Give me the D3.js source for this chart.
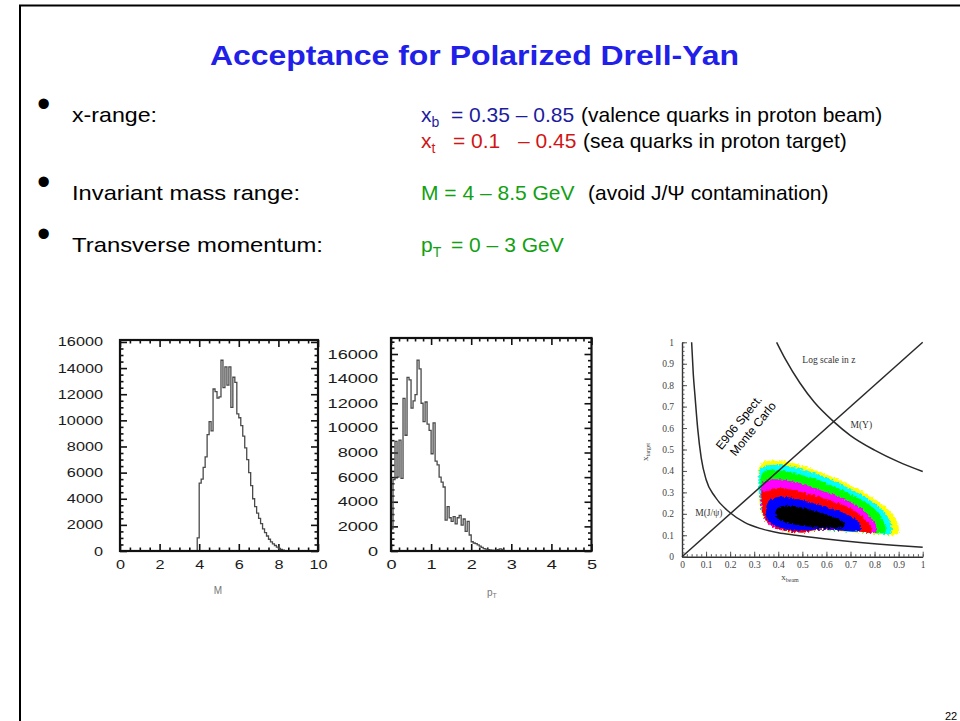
<!DOCTYPE html>
<html>
<head>
<meta charset="utf-8">
<script src="https://cdn.jsdelivr.net/npm/d3@7"></script>
<style>
  html, body { margin: 0; padding: 0; background: #fff; }
  svg { display: block; }
</style>
</head>
<body>
<svg id="slide" width="960" height="721"></svg>
<script>
// ---------- histogram of the dimuon invariant mass (GeV), bins of 0.1 ----------
const massBinEdges = [3.8, 3.9, 4.0, 4.1, 4.2, 4.3, 4.4, 4.5, 4.6, 4.7, 4.8, 4.9,
  5.0, 5.1, 5.2, 5.3, 5.4, 5.5, 5.6, 5.7, 5.8, 5.9, 6.0, 6.1, 6.2, 6.3, 6.4, 6.5,
  6.6, 6.7, 6.8, 6.9, 7.0, 7.1, 7.2, 7.3, 7.4, 7.5, 7.6, 7.7, 7.8, 7.9, 8.0, 8.1,
  8.2, 8.3, 8.4];
const massCounts = [0, 1000, 5200, 5500, 6400, 7200, 8900, 9900, 9200, 12400, 12200, 11700,
  11800, 14600, 12500, 14100, 12700, 14100, 11000, 13300, 12900, 10500, 10200, 9600, 8800, 7900, 7000, 6000,
  5000, 4000, 3400, 2900, 2500, 2100, 1700, 1400, 1150, 900, 700, 550, 420, 300, 200, 120,
  60, 20, 0];
const massBinWidth = 0.1;

// ---------- histogram of the dimuon transverse momentum (GeV), bins of 0.05 ----------
const ptBinEdges = [0.00, 0.05, 0.10, 0.15, 0.20, 0.25, 0.30, 0.35, 0.40, 0.45,
  0.50, 0.55, 0.60, 0.65, 0.70, 0.75, 0.80, 0.85, 0.90, 0.95,
  1.00, 1.05, 1.10, 1.15, 1.20, 1.25, 1.30, 1.35, 1.40, 1.45,
  1.50, 1.55, 1.60, 1.65, 1.70, 1.75, 1.80, 1.85, 1.90, 1.95,
  2.00, 2.05, 2.10, 2.15, 2.20, 2.25, 2.30, 2.35, 2.40, 2.45,
  2.50, 2.55, 2.60, 2.65, 2.70, 2.75, 2.80];
const ptCounts = [1800, 5800, 8900, 6000, 9000, 5900, 12400, 9400, 14100, 13900,
  11600, 12200, 12700, 15500, 14800, 12000, 10500, 12100, 10300, 9800,
  7900, 10400, 7300, 7000, 6000, 5600, 5200, 2500, 3600, 2700,
  2400, 2800, 2200, 2700, 2900, 2100, 2600, 1600, 2400, 1300,
  750, 650, 600, 500, 400, 300, 200, 150, 100, 80,
  60, 50, 60, 100, 180, 120, 0];
const ptBinWidth = 0.05;

// ---------- axis tick values ----------
const countTicks = [0, 2000, 4000, 6000, 8000, 10000, 12000, 14000, 16000];
const massTicks = [0, 2, 4, 6, 8, 10];
const ptTicks = [0, 1, 2, 3, 4, 5];
const fracTicks = [0, 0.1, 0.2, 0.3, 0.4, 0.5, 0.6, 0.7, 0.8, 0.9, 1];

// ---------- x_beam / x_target acceptance (log-z density levels, outer to inner) ----------
const levelColors = ["#ffff00", "#00ffff", "#00ff00", "#ff00ff", "#ff0000", "#0000ff", "#000000"];
const levelContours = [
  [[0.325,0.43],[0.36,0.447],[0.42,0.445],[0.47,0.435],[0.53,0.413],[0.6,0.383],[0.68,0.345],[0.75,0.303],[0.81,0.262],[0.857,0.22],[0.885,0.18],[0.9,0.14],[0.9,0.11],[0.88,0.1],[0.82,0.105],[0.74,0.112],[0.66,0.118],[0.57,0.123],[0.5,0.118],[0.44,0.118],[0.39,0.132],[0.355,0.155],[0.335,0.19],[0.322,0.25],[0.318,0.33],[0.318,0.38]],
  [[0.33,0.415],[0.37,0.428],[0.43,0.425],[0.49,0.41],[0.55,0.39],[0.62,0.36],[0.69,0.322],[0.76,0.28],[0.81,0.24],[0.845,0.2],[0.865,0.16],[0.872,0.125],[0.865,0.105],[0.82,0.108],[0.74,0.114],[0.66,0.12],[0.57,0.125],[0.5,0.12],[0.44,0.12],[0.39,0.134],[0.357,0.157],[0.337,0.19],[0.325,0.25],[0.318,0.33],[0.318,0.37]],
  [[0.335,0.39],[0.37,0.405],[0.435,0.397],[0.5,0.38],[0.56,0.36],[0.62,0.333],[0.685,0.3],[0.75,0.262],[0.8,0.222],[0.83,0.18],[0.845,0.14],[0.845,0.115],[0.82,0.11],[0.74,0.116],[0.66,0.121],[0.57,0.126],[0.5,0.122],[0.44,0.122],[0.392,0.136],[0.36,0.158],[0.34,0.19],[0.328,0.25],[0.325,0.32]],
  [[0.335,0.345],[0.37,0.36],[0.41,0.36],[0.49,0.343],[0.57,0.312],[0.65,0.28],[0.72,0.243],[0.77,0.2],[0.8,0.16],[0.81,0.125],[0.8,0.112],[0.74,0.117],[0.66,0.122],[0.57,0.127],[0.5,0.118],[0.44,0.12],[0.39,0.13],[0.357,0.155],[0.338,0.19],[0.328,0.25],[0.328,0.31]],
  [[0.335,0.3],[0.37,0.315],[0.41,0.32],[0.49,0.303],[0.57,0.28],[0.65,0.25],[0.72,0.212],[0.76,0.175],[0.785,0.14],[0.785,0.115],[0.74,0.118],[0.66,0.123],[0.57,0.127],[0.5,0.112],[0.44,0.12],[0.395,0.133],[0.36,0.158],[0.34,0.19],[0.332,0.25]],
  [[0.36,0.26],[0.4,0.278],[0.45,0.276],[0.52,0.258],[0.59,0.235],[0.66,0.21],[0.71,0.182],[0.74,0.15],[0.742,0.125],[0.71,0.118],[0.65,0.125],[0.57,0.128],[0.5,0.122],[0.44,0.126],[0.4,0.138],[0.37,0.155],[0.35,0.185],[0.35,0.22]],
  [[0.39,0.215],[0.42,0.236],[0.47,0.235],[0.53,0.22],[0.59,0.2],[0.64,0.18],[0.675,0.155],[0.67,0.138],[0.63,0.135],[0.58,0.135],[0.53,0.14],[0.48,0.148],[0.43,0.16],[0.395,0.18]]
];

// constant-mass lines and the x_beam = x_target diagonal
const jpsiLine = [[0.04,1.0],[0.047,0.85],[0.054,0.75],[0.065,0.6],[0.08,0.46],[0.1,0.36],[0.137,0.28],[0.2,0.205],[0.26,0.16],[0.324,0.132],[0.4,0.112],[0.463,0.101],[0.6,0.082],[0.74,0.066],[0.878,0.053],[1.0,0.044]];
const upsilonLine = [[0.393,1.0],[0.43,0.92],[0.49,0.81],[0.55,0.72],[0.63,0.63],[0.7,0.565],[0.8,0.497],[0.9,0.442],[1.0,0.397]];
const diagonalLine = [[0,0],[1,1]];

// ================= drawing =================
const svg = d3.select("#slide");
const SANS = "'Liberation Sans', Arial, Helvetica, sans-serif";
const SERIF = "'Liberation Serif', 'Times New Roman', serif";

svg.append("rect").attr("width", 960).attr("height", 721).attr("fill", "#fff");

// slide border
svg.append("path").attr("d", "M20,721V5.5H960")
  .attr("fill", "none").attr("stroke", "#000").attr("stroke-width", 2);

// title
svg.append("text")
  .attr("x", 474.5).attr("y", 65)
  .attr("text-anchor", "middle")
  .attr("font-family", SANS).attr("font-weight", "bold").attr("font-size", 28)
  .attr("fill", "#2020e8")
  .attr("textLength", 529).attr("lengthAdjust", "spacingAndGlyphs")
  .text("Acceptance for Polarized Drell-Yan");

// bullet list
const bulletRows = [
  { y: 122, label: "x-range:", width: 85 },
  { y: 200, label: "Invariant mass range:", width: 228 },
  { y: 252, label: "Transverse momentum:", width: 251 }
];
bulletRows.forEach(r => {
  svg.append("text").attr("x", 37).attr("y", r.y - 5.5)
    .attr("font-family", SANS).attr("font-size", 38).attr("fill", "#000").text("•");
  svg.append("text").attr("x", 72).attr("y", r.y)
    .attr("font-family", SANS).attr("font-size", 21).attr("fill", "#000")
    .attr("textLength", r.width).attr("lengthAdjust", "spacingAndGlyphs")
    .text(r.label);
});

function plain(x, y, str, color, size) {
  return svg.append("text").attr("x", x).attr("y", y)
    .attr("font-family", SANS).attr("font-size", size || 21).attr("fill", color).text(str);
}
function subscripted(x, y, base, sub, color) {
  const t = svg.append("text").attr("x", x).attr("y", y)
    .attr("font-family", SANS).attr("font-size", 21).attr("fill", color);
  t.append("tspan").text(base);
  t.append("tspan").attr("font-size", 14).attr("dy", 5).text(sub);
  return t;
}
const BLUE = "#1c1c9e", RED = "#d01616", GREEN = "#12a012";
subscripted(421, 122, "x", "b", BLUE);
plain(451, 122, "= 0.35 – 0.85", BLUE);
plain(581, 122, "(valence quarks in proton beam)", "#000");
subscripted(421, 148, "x", "t", RED);
plain(453, 148, "= 0.1", RED);
plain(518, 148, "– 0.45", RED);
plain(583, 148, "(sea quarks in proton target)", "#000");
plain(421, 200, "M = 4 – 8.5 GeV", GREEN);
plain(588, 200, "(avoid J/Ψ contamination)", "#000");
subscripted(421, 252, "p", "T", GREEN);
plain(451, 252, "= 0 – 3 GeV", GREEN);

// page number
svg.append("text").attr("x", 945).attr("y", 720)
  .attr("font-family", SANS).attr("font-size", 11).attr("fill", "#000").text("22");

// ---------- helpers for framed ROOT-style plots ----------
function stretchLabels(sel, factor) {
  sel.selectAll("text").each(function () {
    const w = this.getComputedTextLength();
    d3.select(this).attr("textLength", w * factor).attr("lengthAdjust", "spacingAndGlyphs");
  });
}

function framedHistogram(opt) {
  const g = svg.append("g");
  const x = d3.scaleLinear().domain(opt.xDomain).range(opt.xRange);
  const y = d3.scaleLinear().domain(opt.yDomain).range(opt.yRange);
  const [x0, x1] = opt.xRange, [yb, yt] = opt.yRange;

  const addAxis = (axis, tr, labels) => {
    const a = g.append("g").attr("transform", tr).call(axis);
    a.select(".domain").remove();
    a.selectAll("line").attr("stroke", "#111").attr("stroke-width", 1.6);
    if (labels) {
      a.selectAll("text").attr("font-family", SANS).attr("font-size", 12.5).attr("fill", "#1a1a1a");
      stretchLabels(a, opt.stretch);
    } else {
      a.selectAll("text").remove();
    }
    return a;
  };
  // bottom / top
  addAxis(d3.axisBottom(x).tickValues(opt.xMajor).tickSizeInner(-7).tickSizeOuter(0).tickPadding(9).tickFormat(d3.format("d")), `translate(0,${yb})`, true);
  addAxis(d3.axisBottom(x).tickValues(opt.xMinor).tickSizeInner(-3.5).tickSizeOuter(0), `translate(0,${yb})`, false);
  addAxis(d3.axisTop(x).tickValues(opt.xMajor).tickSizeInner(-7).tickSizeOuter(0), `translate(0,${yt})`, false);
  addAxis(d3.axisTop(x).tickValues(opt.xMinor).tickSizeInner(-3.5).tickSizeOuter(0), `translate(0,${yt})`, false);
  // left / right
  addAxis(d3.axisLeft(y).tickValues(countTicks).tickSizeInner(-7).tickSizeOuter(0).tickPadding(opt.yPad).tickFormat(d3.format("d")), `translate(${x0},0)`, true);
  addAxis(d3.axisLeft(y).tickValues(opt.yMinor).tickSizeInner(-3.5).tickSizeOuter(0), `translate(${x0},0)`, false);
  addAxis(d3.axisRight(y).tickValues(countTicks).tickSizeInner(-7).tickSizeOuter(0), `translate(${x1},0)`, false);
  addAxis(d3.axisRight(y).tickValues(opt.yMinor).tickSizeInner(-3.5).tickSizeOuter(0), `translate(${x1},0)`, false);

  // histogram outline
  const pts = opt.edges.map((e, i) => [e, opt.counts[i]]);
  const last = opt.edges.length - 1;
  pts.push([opt.edges[last] + opt.width, opt.counts[last]]);
  g.append("path")
    .attr("d", d3.line().x(d => x(d[0])).y(d => y(d[1])).curve(d3.curveStepAfter)(pts))
    .attr("fill", "none").attr("stroke", "#4a4a4a").attr("stroke-width", 1.3);

  // frame
  g.append("rect").attr("x", x0).attr("y", yt).attr("width", x1 - x0).attr("height", yb - yt)
    .attr("fill", "none").attr("stroke", "#111").attr("stroke-width", 2.2);
  return { g, x, y };
}

const countMinor = d3.range(0, 17001, 500);

// invariant mass histogram
framedHistogram({
  xDomain: [0, 10], xRange: [120, 318],
  yDomain: [0, 16150], yRange: [551, 340],
  xMajor: massTicks, xMinor: d3.range(0, 10.01, 0.5).filter(v => v % 2 !== 0),
  yMinor: countMinor.filter(v => v <= 16150 && v % 2000 !== 0),
  edges: massBinEdges, counts: massCounts, width: massBinWidth,
  yPad: 17, stretch: 1.3
});
svg.append("text").attr("x", 218).attr("y", 594).attr("text-anchor", "middle")
  .attr("font-family", SANS).attr("font-size", 10).attr("fill", "#777").text("M");

// transverse momentum histogram
framedHistogram({
  xDomain: [0, 5], xRange: [391, 591.5],
  yDomain: [0, 17300], yRange: [551, 338],
  xMajor: ptTicks, xMinor: d3.range(0, 5.01, 0.2).filter(v => Math.abs(v - Math.round(v)) > 1e-6),
  yMinor: countMinor.filter(v => v <= 17300 && v % 2000 !== 0),
  edges: ptBinEdges, counts: ptCounts, width: ptBinWidth,
  yPad: 13, stretch: 1.45
});
{
  const t = svg.append("text").attr("x", 487).attr("y", 596)
    .attr("font-family", SANS).attr("font-size", 10).attr("fill", "#777");
  t.append("tspan").text("p");
  t.append("tspan").attr("font-size", 7).attr("dy", 2).text("T");
}

// ---------- x_target vs x_beam acceptance map ----------
{
  const g = svg.append("g");
  const sx = d3.scaleLinear().domain([0, 1]).range([682, 922.7]);
  const sy = d3.scaleLinear().domain([0, 1]).range([556.7, 342.3]);

  const defs = svg.append("defs");
  const f = defs.append("filter").attr("id", "grainy")
    .attr("x", "-5%").attr("y", "-5%").attr("width", "110%").attr("height", "110%");
  f.append("feTurbulence").attr("type", "fractalNoise").attr("baseFrequency", 0.5)
    .attr("numOctaves", 2).attr("seed", 4).attr("result", "noise");
  f.append("feDisplacementMap").attr("in", "SourceGraphic").attr("in2", "noise")
    .attr("scale", 5).attr("xChannelSelector", "R").attr("yChannelSelector", "G");

  const area = d3.line().x(d => sx(d[0])).y(d => sy(d[1])).curve(d3.curveCatmullRomClosed.alpha(0.5));
  const blob = g.append("g").attr("filter", "url(#grainy)");
  blob.selectAll("path").data(levelContours).join("path")
    .attr("d", d => area(d))
    .attr("fill", (d, i) => levelColors[i]);

  // axes
  const axisStyle = (a, labels) => {
    a.select(".domain").attr("stroke", "#333").attr("stroke-width", 1.4);
    a.selectAll("line").attr("stroke", "#444").attr("stroke-width", 0.9);
    if (labels) a.selectAll("text").attr("font-family", SERIF).attr("font-size", 9.5).attr("fill", "#444");
    else a.selectAll("text").remove();
  };
  const minorFrac = d3.range(0, 1.001, 0.02);
  let a = g.append("g").attr("transform", "translate(0,556.7)")
    .call(d3.axisBottom(sx).tickValues(fracTicks).tickSizeInner(-5).tickSizeOuter(0).tickPadding(5).tickFormat(d => String(d)));
  axisStyle(a, true);
  a = g.append("g").attr("transform", "translate(0,556.7)")
    .call(d3.axisBottom(sx).tickValues(minorFrac).tickSizeInner(-2.5).tickSizeOuter(0));
  axisStyle(a, false); a.select(".domain").remove();
  a = g.append("g").attr("transform", "translate(682,0)")
    .call(d3.axisLeft(sy).tickValues(fracTicks).tickSizeInner(-5).tickSizeOuter(0).tickPadding(8).tickFormat(d => String(d)));
  axisStyle(a, true);
  a = g.append("g").attr("transform", "translate(682,0)")
    .call(d3.axisLeft(sy).tickValues(minorFrac).tickSizeInner(-2.5).tickSizeOuter(0));
  axisStyle(a, false); a.select(".domain").remove();

  // kinematic lines
  const curve = d3.line().x(d => sx(d[0])).y(d => sy(d[1])).curve(d3.curveMonotoneX);
  [diagonalLine, jpsiLine, upsilonLine].forEach(c => {
    g.append("path").attr("d", curve(c)).attr("fill", "none")
      .attr("stroke", "#2a2a2a").attr("stroke-width", 1.5);
  });

  // annotations
  const serifText = (x, y, str, size) => g.append("text").attr("x", x).attr("y", y)
    .attr("font-family", SERIF).attr("font-size", size || 9.5).attr("fill", "#333").text(str);
  serifText(sx(0.5), sy(0.905), "Log scale in z");
  serifText(sx(0.7), sy(0.6), "M(Υ)");
  serifText(sx(0.055), sy(0.19), "M(J/ψ)");

  const mc = g.append("g").attr("transform", "translate(742,425) rotate(-51)");
  mc.append("text").attr("x", 0).attr("y", 0).attr("text-anchor", "middle")
    .attr("font-family", SANS).attr("font-size", 12).attr("fill", "#000").text("E906 Spect.");
  mc.append("text").attr("x", 4).attr("y", 15).attr("text-anchor", "middle")
    .attr("font-family", SANS).attr("font-size", 12).attr("fill", "#000").text("Monte Carlo");

  // axis titles
  const xt = g.append("text").attr("x", 790).attr("y", 580).attr("text-anchor", "middle")
    .attr("font-family", SERIF).attr("font-size", 9).attr("fill", "#444");
  xt.append("tspan").text("x");
  xt.append("tspan").attr("font-size", 6).attr("dy", 2).text("beam");
  const yt = g.append("text").attr("transform", "translate(648,452) rotate(-90)").attr("text-anchor", "middle")
    .attr("font-family", SERIF).attr("font-size", 9).attr("fill", "#444");
  yt.append("tspan").text("x");
  yt.append("tspan").attr("font-size", 6).attr("dy", 2).text("target");
}
</script>
</body>
</html>
